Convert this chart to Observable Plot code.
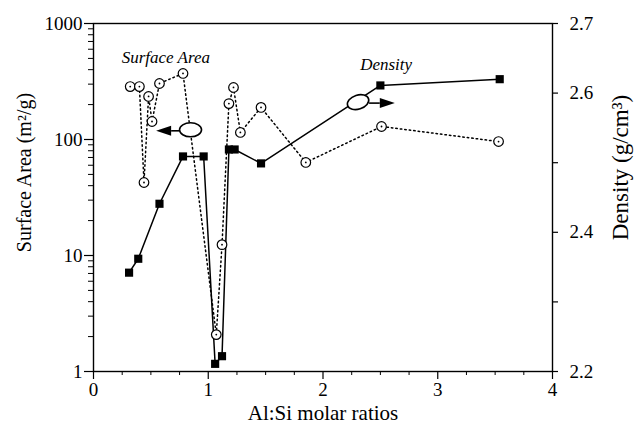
<!DOCTYPE html>
<html>
<head>
<meta charset="utf-8">
<script src="https://cdn.jsdelivr.net/npm/d3@7"></script>
<script src="https://cdn.jsdelivr.net/npm/@observablehq/plot@0.6"></script>
<style>
  html, body { margin: 0; padding: 0; background: #fff; }
  svg, svg g, svg text, svg tspan { font-family: "Liberation Serif", "Times New Roman", serif !important; font-variant: normal !important; }
</style>
</head>
<body>
<div id="chart"></div>
<script>
// Surface area (open circles, dotted line) — left log axis
const ratioSA = [0.32, 0.40, 0.44, 0.48, 0.51, 0.575, 0.78, 1.07, 1.12, 1.18, 1.22, 1.28, 1.46, 1.85, 2.51, 3.53];
const surfaceArea = [286, 286, 42.6, 235, 143, 304, 371, 2.08, 12.4, 204, 281, 115, 189, 63.4, 129.5, 96];

// Density (filled squares, solid line) — right linear axis
const ratioD = [0.31, 0.39, 0.575, 0.78, 0.96, 1.06, 1.12, 1.18, 1.23, 1.46, 2.50, 3.54];
const density = [2.342, 2.362, 2.441, 2.509, 2.509, 2.211, 2.222, 2.519, 2.519, 2.499, 2.611, 2.620];

// Tick values / labels
const xTicks = [0, 1, 2, 3, 4];
const saTicks = [1, 10, 100, 1000];
const densityTicks = [2.2, 2.3, 2.4, 2.5, 2.6, 2.7];

// Text labels
const xLabel = "Al:Si molar ratios";
const yLabelLeft = "Surface Area (m\u00B2/g)";
const yLabelRight = "Density (g/cm\u00B3)";
const noteSA = "Surface Area";
const noteD = "Density";

// Annotation anchors (data space): note positions, ellipse centres, arrow tips
const noteX = [0.63, 2.55];
const noteY = [509, 443];
const ellipseX = [0.85, 2.31];
const ellipseY = [120, 208];
const arrowTipX = [0.55, 2.63];

// Map density (2.2..2.7) onto the log surface-area scale (1..1000)
const dMin = 2.2, dMax = 2.7;
const toY = d => 10 ** ((d - dMin) / (dMax - dMin) * 3);
const fromY = v => dMin + Math.log10(v) / 3 * (dMax - dMin);

const saData = ratioSA.map((x, i) => ({x, y: surfaceArea[i]}));
const dData = ratioD.map((x, i) => ({x, y: toY(density[i])}));

const saMinor = [1, 10, 100].flatMap(b => [2, 3, 4, 5, 6, 7, 8, 9].map(m => b * m));
const xMinor = d3.range(0, 4.001, 0.25).filter(v => !xTicks.includes(v));

const font = "Liberation Serif";

function annotations(index, {x, y}) {
  const g = d3.create("svg:g").attr("fill", "black").attr("stroke", "black");
  ellipseX.forEach((ex, i) => {
    const cx = x(ex), cy = y(ellipseY[i]);
    const tip = x(arrowTipX[i]);
    const dir = Math.sign(tip - cx);
    const rx = 11, ry = 7;
    g.append("ellipse")
      .attr("cx", cx).attr("cy", cy).attr("rx", rx).attr("ry", ry)
      .attr("fill", "white").attr("stroke-width", 1.6)
      .attr("transform", i === 1 ? `rotate(-18 ${cx} ${cy})` : null);
    const base = tip - dir * 15;
    g.append("line")
      .attr("x1", cx + dir * rx).attr("y1", cy + 1)
      .attr("x2", base).attr("y2", cy + 1)
      .attr("stroke-width", 1.6);
    g.append("polygon")
      .attr("points", `${tip},${cy + 1} ${base},${cy - 4} ${base},${cy + 6}`)
      .attr("stroke", "none");
  });
  return g.node();
}

const chart = Plot.plot({
  width: 637,
  height: 429,
  marginLeft: 93,
  marginRight: 85,
  marginTop: 23,
  marginBottom: 58,
  style: {fontFamily: font, fontSize: "19px", background: "white", color: "black"},
  x: {domain: [0, 4]},
  y: {type: "log", domain: [1, 1000]},
  marks: [
    Plot.frame({strokeWidth: 1.4}),
    // bottom axis
    Plot.axisX({ticks: xTicks, tickSize: 8, tickPadding: 3, tickFormat: d => String(d), label: null, strokeWidth: 1.2, fontFamily: font, fontSize: 19}),
    Plot.axisX({ticks: xMinor, tickSize: 4, tickFormat: () => "", label: null}),
    // left log axis
    Plot.axisY({ticks: saTicks, tickSize: 9, tickPadding: 2, tickFormat: d => String(d), label: null, strokeWidth: 1.2, fontFamily: font, fontSize: 19}),
    Plot.axisY({ticks: saMinor, tickSize: 5, tickFormat: () => "", label: null}),
    // right density axis
    Plot.axisY({anchor: "right", ticks: densityTicks.map(toY), tickSize: 5, tickPadding: 12,
      tickFormat: v => fromY(v).toFixed(1), label: null, strokeWidth: 1.2, fontFamily: font, fontSize: 19}),
    // axis titles
    Plot.text([xLabel], {frameAnchor: "bottom", textAnchor: "middle", lineAnchor: "middle", dy: 42, text: d => d, fontSize: 21, fontFamily: font}),
    Plot.text([yLabelLeft], {frameAnchor: "left", textAnchor: "middle", lineAnchor: "middle", dx: -69, dy: -25, rotate: -90, text: d => d, fontSize: 20, fontFamily: font}),
    Plot.text([yLabelRight], {frameAnchor: "right", textAnchor: "middle", lineAnchor: "middle", dx: 68, dy: -30, rotate: -90, text: d => d, fontSize: 23, fontFamily: font}),
    // series
    Plot.line(saData, {x: "x", y: "y", stroke: "black", strokeWidth: 1.5, strokeDasharray: "1.5,3"}),
    Plot.line(dData, {x: "x", y: "y", stroke: "black", strokeWidth: 1.5}),
    Plot.dot(saData, {x: "x", y: "y", r: 4.8, fill: "white", stroke: "black", strokeWidth: 1.2}),
    Plot.dot(saData, {x: "x", y: "y", r: 0.9, fill: "black"}),
    Plot.dot(dData, {x: "x", y: "y", symbol: "square", r: 4.6, fill: "black"}),
    // annotations
    annotations,
    Plot.text([noteSA], {x: [noteX[0]], y: [noteY[0]], text: d => d, fontStyle: "italic", fontSize: 17, fontFamily: font}),
    Plot.text([noteD], {x: [noteX[1]], y: [noteY[1]], text: d => d, fontStyle: "italic", fontSize: 17, fontFamily: font})
  ]
});

d3.select(chart).selectAll("text").style("font-family", "'Liberation Serif', serif");
document.getElementById("chart").appendChild(chart);
</script>
</body>
</html>
